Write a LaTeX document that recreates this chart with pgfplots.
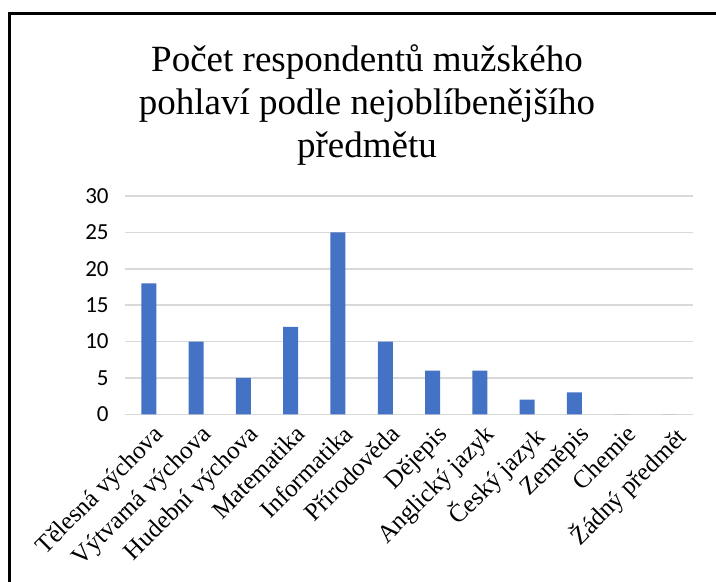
\documentclass[border=0pt]{standalone}
\usepackage{pgfplots}
\pgfplotsset{compat=1.18}
\usepackage{fontspec}
\setmainfont{Liberation Serif}
\newfontfamily\calibri{Carlito}
\definecolor{barBlue}{HTML}{4472C4}
\definecolor{gridGray}{HTML}{D9D9D9}

\begin{document}
\begin{tikzpicture}[x=1bp,y=1bp]
\useasboundingbox (0,0) rectangle (716,582);
\fill[white] (0,0) rectangle (716,582);
% frame (only top and left edges are visible)
\draw[line width=3bp, black] (9,0) -- (9,568) -- (716,568);

\begin{axis}[
  at={(125.1bp,167.7bp)}, anchor=south west,
  scale only axis,
  width=567.6bp, height=218.3bp,
  ybar, bar width=15bp,
  xmin=-0.5, xmax=11.5,
  ymin=0, ymax=30,
  xtick={0,...,11},
  xticklabels={Tělesná výchova, Výtvarná výchova, Hudební výchova, Matematika, Informatika, Přírodověda, Dějepis, Anglický jazyk, Český jazyk, Zeměpis, Chemie, Žádný předmět},
  ytick={0,5,...,30},
  axis line style={draw=none},
  major tick length=0pt,
  ymajorgrids,
  major grid style={gridGray, line width=1.5bp},
  yticklabel style={font=\calibri\fontsize{23bp}{27bp}\selectfont, xshift=-13bp},
  xticklabel style={font=\fontsize{25bp}{29bp}\selectfont, rotate=45, anchor=north east, inner sep=1bp, xshift=-3bp, yshift=-8bp},
  /pgf/number format/assume math mode=true,
  clip=false,
]
\addplot[fill=barBlue, draw=none] coordinates {
  (0,18) (1,10) (2,5) (3,12) (4,25) (5,10) (6,6) (7,6) (8,2) (9,3) (10,0) (11,0)
};
\end{axis}

\node[align=center, font=\fontsize{37bp}{43bp}\selectfont, anchor=north] at (367,541)
  {Počet respondentů mužského\\pohlaví podle nejoblíbenějšího\\předmětu};
\end{tikzpicture}
\end{document}
